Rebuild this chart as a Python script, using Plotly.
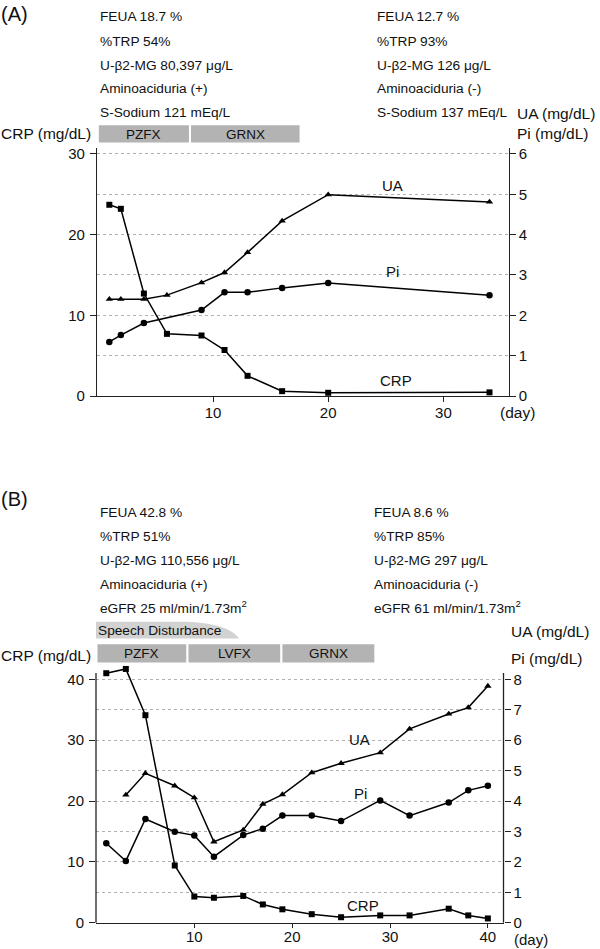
import plotly.graph_objects as go

W, H = 600, 949

# ---------------- Data ----------------
# Panel A
days_A = [1, 2, 4, 6, 9, 11, 13, 16, 20, 34]
crp_A = [23.7, 23.2, 12.7, 7.7, 7.5, 5.7, 2.5, 0.6, 0.4, 0.45]
ua_A = [2.40, 2.40, 2.40, 2.50, 2.81, 3.06, 3.56, 4.34, 4.99, 4.81]
pi_days_A = [1, 2, 4, 9, 11, 13, 16, 20, 34]
pi_A = [1.34, 1.51, 1.81, 2.13, 2.57, 2.57, 2.68, 2.80, 2.50]

# Panel B
days_B = [1, 3, 5, 8, 10, 12, 15, 17, 19, 22, 25, 29, 32, 36, 38, 40]
crp_B = [41.0, 41.7, 34.1, 9.4, 4.3, 4.1, 4.4, 3.0, 2.2, 1.4, 0.9, 1.2, 1.2, 2.3, 1.2, 0.7]
ua_days_B = [3, 5, 8, 10, 12, 15, 17, 19, 22, 25, 29, 32, 36, 38, 40]
ua_B = [4.20, 4.91, 4.50, 4.11, 2.66, 3.05, 3.90, 4.21, 4.93, 5.24, 5.59, 6.37, 6.86, 7.07, 7.78]
pi_B = [2.61, 2.03, 3.41, 2.99, 2.87, 2.17, 2.88, 3.09, 3.52, 3.52, 3.34, 4.02, 3.52, 3.95, 4.35, 4.50]

# Drug periods (day start, day end)
drugs_A = ["PZFX", "GRNX"]
drug_start_A = [0, 8.0]
drug_end_A = [8.0, 17.6]
drugs_B = ["PZFX", "LVFX", "GRNX"]
drug_start_B = [0, 9.3, 18.9]
drug_end_B = [9.3, 18.9, 28.5]

# Header texts
left_text_A = ["FEUA 18.7 %", "%TRP 54%", "U-β2-MG 80,397 μg/L", "Aminoaciduria (+)", "S-Sodium 121 mEq/L"]
right_text_A = ["FEUA 12.7 %", "%TRP 93%", "U-β2-MG 126 μg/L", "Aminoaciduria (-)", "S-Sodium 137 mEq/L"]
left_text_B = ["FEUA 42.8 %", "%TRP 51%", "U-β2-MG 110,556 μg/L", "Aminoaciduria (+)", "eGFR 25 ml/min/1.73m<sup>2</sup>"]
right_text_B = ["FEUA 8.6 %", "%TRP 85%", "U-β2-MG 297 μg/L", "Aminoaciduria (-)", "eGFR 61 ml/min/1.73m<sup>2</sup>"]

FONT = "Liberation Sans, Arial, Helvetica, sans-serif"
INK = "#111111"
AXC = "#222222"


def px(x):
    return x / W


def py(y):
    return 1 - y / H


fig = go.Figure()

line = dict(color="black", width=1.5)


def add_series(x, y, sym, size, xa, ya, name):
    fig.add_trace(go.Scatter(x=x, y=y, mode="lines+markers", line=line,
                             marker=dict(symbol=sym, size=size, color="black"),
                             xaxis=xa, yaxis=ya, name=name, cliponaxis=False))


# Panel A traces
add_series(days_A, crp_A, "square", 6, "x", "y", "CRP")
add_series(days_A, ua_A, "triangle-up", 6.5, "x", "y2", "UA")
add_series(pi_days_A, pi_A, "circle", 6.5, "x", "y2", "Pi")
# Panel B traces
add_series(days_B, crp_B, "square", 6, "x2", "y3", "CRP")
add_series(ua_days_B, ua_B, "triangle-up", 6.5, "x2", "y4", "UA")
add_series(days_B, pi_B, "circle", 6.5, "x2", "y4", "Pi")

axis_common = dict(linecolor=AXC, linewidth=1.3, ticks="outside",
                   tickcolor=AXC, tickwidth=1.2, automargin=False,
                   tickfont=dict(family=FONT, size=15, color=INK), zeroline=False,
                   fixedrange=True)
GRID = "#b0b0b0"
grid = dict(showgrid=True, gridcolor=GRID, griddash="dot", gridwidth=1)
minor = dict(dtick=5, tick0=0, showgrid=True, gridcolor=GRID, griddash="dot", ticks="")

# Panel B plot area is extended upward a little so the day-3 CRP point is not clipped;
# the visible axis lines are drawn only up to the reference's axis top.
B_bottom, B_top_axis = 922.7, 673.0
B_px_per = (922.7 - 679.3) / 40.0
B_top_range = 43.0
B_top_px = B_bottom - B_top_range * B_px_per

fig.update_layout(
    width=W, height=H, autosize=False,
    margin=dict(l=0, r=0, t=0, b=0, pad=0, autoexpand=False),
    paper_bgcolor="white", plot_bgcolor="white", showlegend=False,
    font=dict(family=FONT, color=INK),
    xaxis=dict(domain=[px(97), px(508.5)], range=[-0.07, 35.65], anchor="y",
               tickvals=[10, 20, 30], showgrid=False, showline=True, ticklen=5,
               ticklabelstandoff=-2, **axis_common),
    yaxis=dict(domain=[py(396), py(148.3)], range=[0, 30.7], anchor="x",
               tickvals=[0, 10, 20, 30], **grid, minor=minor, showline=True,
               ticklen=6, ticklabelstandoff=2, **axis_common),
    yaxis2=dict(overlaying="y", side="right", anchor="x", range=[0, 6.14],
                tickvals=[0, 1, 2, 3, 4, 5, 6], showgrid=False, showline=True,
                ticklen=6, **axis_common),
    xaxis2=dict(domain=[px(96), px(503.5)], range=[-0.05, 41.6], anchor="y3",
                tickvals=[10, 20, 30, 40], showgrid=False, showline=True, ticklen=4,
                ticklabelstandoff=-4, **axis_common),
    yaxis3=dict(domain=[py(B_bottom), py(B_top_px)], range=[0, B_top_range], anchor="x2",
                tickvals=[0, 10, 20, 30, 40], **grid,
                minor=dict(tickvals=[5, 15, 25, 35], showgrid=True, gridcolor=GRID,
                           griddash="dot", ticks=""),
                showline=False, ticklen=6, ticklabelstandoff=2, **axis_common),
    yaxis4=dict(overlaying="y3", side="right", anchor="x2", range=[0, B_top_range / 5],
                tickvals=[0, 1, 2, 3, 4, 5, 6, 7, 8], showgrid=False, showline=False,
                ticklen=6, **axis_common),
)

ann = []
shapes = []

# Axis lines for panel B (drawn to the reference's axis top)
for xx in (px(96), px(503.5)):
    shapes.append(dict(type="line", xref="paper", yref="paper", x0=xx, x1=xx,
                       y0=py(B_bottom), y1=py(B_top_axis),
                       line=dict(color=AXC, width=1.3), layer="above"))


def text(x, y, s, size=13.7, xanchor="left", xref="paper", yref="paper"):
    ann.append(dict(x=x, y=y, xref=xref, yref=yref, text=s, showarrow=False,
                    xanchor=xanchor, yanchor="middle", borderpad=0,
                    font=dict(family=FONT, size=size, color=INK)))


# Panel labels
text(px(0), py(14), "(A)", size=20)
text(px(0), py(499), "(B)", size=20)

# Header texts
ys_A = [16, 41, 65.5, 88.5, 112]
for s, yy in zip(left_text_A, ys_A):
    text(px(99), py(yy), s)
for s, yy in zip(right_text_A, ys_A):
    text(px(376.5), py(yy), s)
ys_B = [512.3, 536.7, 560, 584.3, 607]
for s, yy in zip(left_text_B, ys_B):
    text(px(99), py(yy), s)
for s, yy in zip(right_text_B, ys_B):
    text(px(373), py(yy), s)

# Axis titles
text(px(0), py(133.5), "CRP (mg/dL)", size=15.5)
text(px(516), py(113.3), "UA (mg/dL)", size=15.5)
text(px(516), py(133.3), "Pi (mg/dL)", size=15.5)
text(px(0), py(655), "CRP (mg/dL)", size=15.5)
text(px(510), py(631.7), "UA (mg/dL)", size=15.5)
text(px(510), py(658.3), "Pi (mg/dL)", size=15.5)
text(px(517.5), py(412), "(day)", size=15.5, xanchor="center")
text(px(531), py(939), "(day)", size=15, xanchor="center")

# In-plot series labels
for s, xx, yy in [("UA", 25.6, 26.1), ("Pi", 25.6, 15.4), ("CRP", 25.9, 1.9)]:
    ann.append(dict(x=xx, y=yy, xref="x", yref="y", text=s, showarrow=False,
                    font=dict(family=FONT, size=15, color=INK)))
for s, xx, yy in [("UA", 26.9, 30.1), ("Pi", 27.0, 21.2), ("CRP", 27.2, 2.9)]:
    ann.append(dict(x=xx, y=yy, xref="x2", yref="y3", text=s, showarrow=False,
                    font=dict(family=FONT, size=15, color=INK)))

BAR = "#b3b3b3"
# Drug bars A
for name, a, b in zip(drugs_A, drug_start_A, drug_end_A):
    shapes.append(dict(type="rect", xref="x", yref="paper", x0=a, x1=b,
                       y0=py(143.5), y1=py(124.3), fillcolor=BAR,
                       line=dict(color="white", width=2), layer="above"))
    ann.append(dict(x=(a + b) / 2, y=py(134), xref="x", yref="paper", text=name,
                    showarrow=False, yanchor="middle",
                    font=dict(family=FONT, size=13.5, color=INK)))
# Drug bars B
for name, a, b in zip(drugs_B, drug_start_B, drug_end_B):
    shapes.append(dict(type="rect", xref="x2", yref="paper", x0=a, x1=b,
                       y0=py(663.5), y1=py(643.3), fillcolor=BAR,
                       line=dict(color="white", width=2), layer="above"))
    ann.append(dict(x=(a + b) / 2, y=py(653.5), xref="x2", yref="paper", text=name,
                    showarrow=False, yanchor="middle",
                    font=dict(family=FONT, size=13.5, color=INK)))

# Speech disturbance tapered band
path = (f"M {px(96)},{py(638.5)} L {px(96)},{py(621.8)} L {px(185)},{py(621.8)} "
        f"Q {px(228)},{py(623)} {px(239)},{py(638.5)} Z")
shapes.append(dict(type="path", xref="paper", yref="paper", path=path,
                   fillcolor="#d2d2d2", line=dict(width=0), layer="below"))
text(px(96.5), py(630.5), "Speech Disturbance", size=13.7)

fig.update_layout(annotations=ann, shapes=shapes)

fig.write_html("out.html",
               config={"displayModeBar": False, "responsive": False},
               post_script="document.body.style.margin='0';document.body.style.padding='0';")
